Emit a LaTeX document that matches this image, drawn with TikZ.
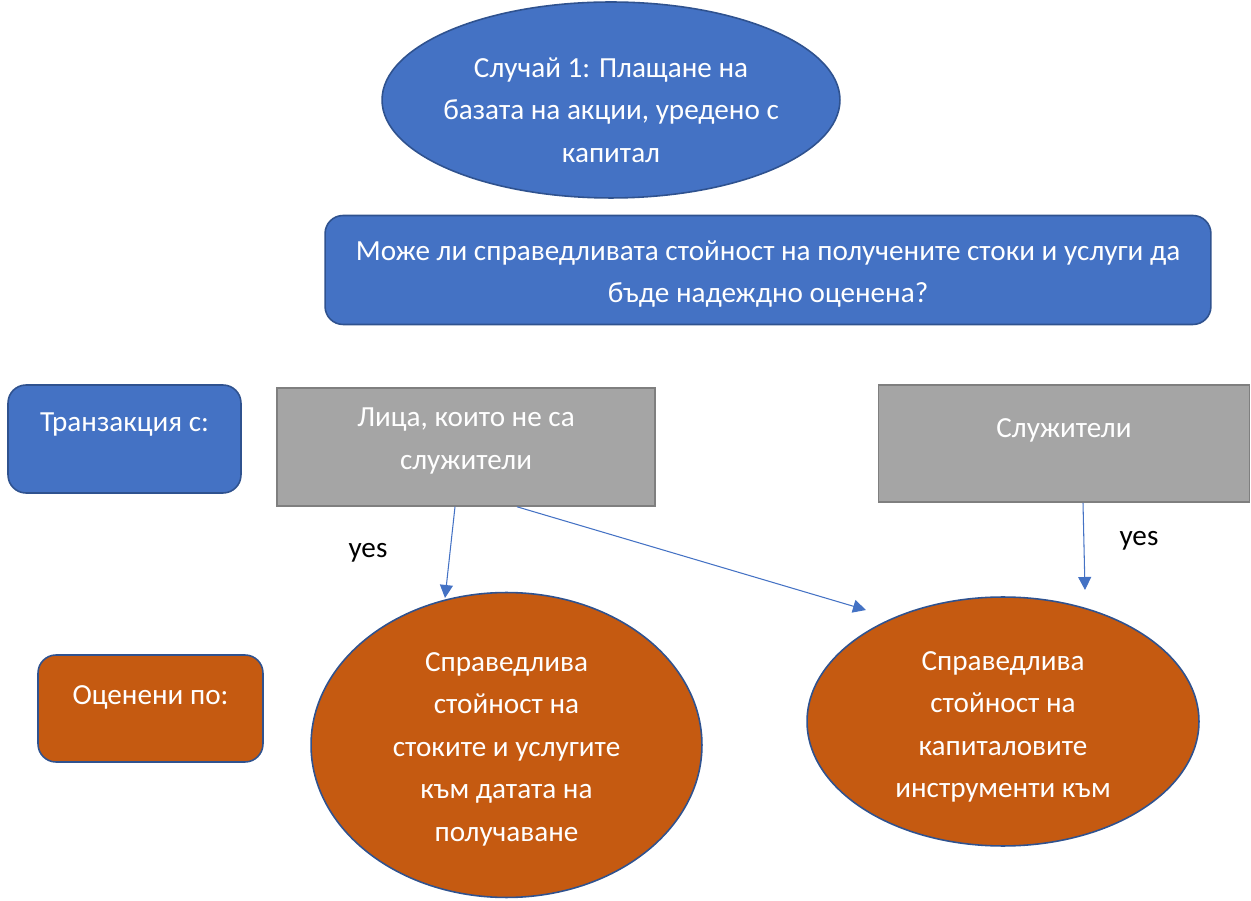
\documentclass[tikz,border=0pt]{standalone}
\usepackage{fontspec}
\setmainfont{Carlito}
\usetikzlibrary{shapes.geometric,arrows.meta}
\definecolor{accblue}{HTML}{4472C4}
\definecolor{accline}{HTML}{2F528F}
\definecolor{accgray}{HTML}{A5A5A5}
\definecolor{grayline}{HTML}{7F7F7F}
\definecolor{accorange}{HTML}{C55A11}
\tikzset{
	bluebox/.style={shape=rectangle, rounded corners=0.36cm, draw=accline, fill=accblue, line width=0.9pt},
	graybox/.style={shape=rectangle, draw=grayline, fill=accgray, line width=0.9pt},
	orangebox/.style={shape=rectangle, rounded corners=0.36cm, draw=accline, fill=accorange, line width=0.9pt},
	blueoval/.style={shape=ellipse, draw=accline, fill=accblue, line width=0.9pt},
	orangeoval/.style={shape=ellipse, draw=accline, fill=accorange, line width=0.9pt},
	txt/.style={text=white, align=center, font=\fontsize{16.6}{24.2}\selectfont, inner sep=0pt},
	yestxt/.style={text=black, font=\fontsize{16.6}{24.2}\selectfont, inner sep=0pt},
	conn/.style={draw=accblue, line width=0.6pt, -{Triangle[length=0.26cm, width=0.26cm]}}
}
\begin{document}
\begin{tikzpicture}[x=0.02cm, y=-0.02cm]
	\useasboundingbox (0,0) rectangle (1251,901);
	\node[blueoval, minimum width=9.16cm, minimum height=3.92cm](case) at (611,100){} node[txt](casetext) at (611,110){Случай 1: Плащане на\\базата на акции, уредено с\\капитал};
	\node[bluebox, minimum width=17.72cm, minimum height=2.18cm](quest) at (768,270){} node[txt](questtext) at (768,274){Може ли справедливата стойност на получените стоки и услуги да\\бъде надеждно оценена?};
	\node[bluebox, minimum width=4.66cm, minimum height=2.16cm](trans) at (124.5,439){} node[txt](transtext) at (124.5,425){Транзакция с:};
	\node[graybox, minimum width=7.56cm, minimum height=2.36cm](nonemp) at (466,447){} node[txt](nonemptext) at (466,441){Лица, които не са\\служители};
	\node[graybox, minimum width=7.42cm, minimum height=2.34cm](emp) at (1064,443.5){} node[txt](emptext) at (1064,430){Служители};
	\node[orangebox, minimum width=4.5cm, minimum height=2.14cm](valued) at (150.5,708.5){} node[txt](valuedtext) at (150.5,697){Оценени по:};
	\node[orangeoval, minimum width=7.82cm, minimum height=6.1cm](goods) at (506.5,745){} node[txt](goodstext) at (506.5,749){Справедлива\\стойност на\\стоките и услугите\\към датата на\\получаване};
	\node[orangeoval, minimum width=7.84cm, minimum height=4.98cm](equity) at (1003,721.5){} node[txt](equitytext) at (1003,727){Справедлива\\стойност на\\капиталовите\\инструменти към};
	\node[yestxt](yesa) at (368,553){yes};
	\node[yestxt](yesb) at (1139,541){yes};
	\coordinate (goodsin) at (445,598);
	\coordinate (equityin) at (866,610);
	\coordinate (equitytop) at (1085,590);
	\draw[conn] (nonemp.south -| 455,0) -- (goodsin);
	\draw[conn] (nonemp.south -| 517,0) -- (equityin);
	\draw[conn] (emp.south -| 1083,0) -- (equitytop);
\end{tikzpicture}
\end{document}
